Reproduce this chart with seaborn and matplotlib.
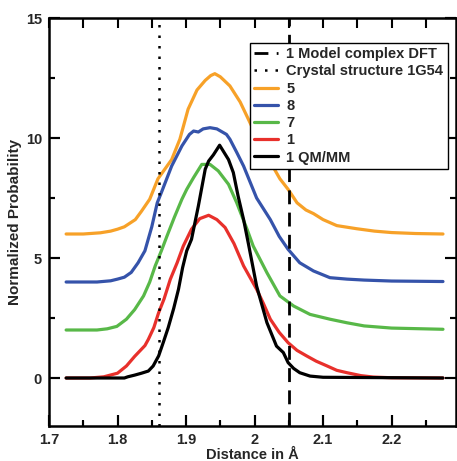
import numpy as np
import pandas as pd
import matplotlib
matplotlib.use("Agg")
import matplotlib.pyplot as plt
import seaborn as sns

# ---- data ----
x5 = [1.725, 1.75, 1.775, 1.79, 1.80, 1.81, 1.818, 1.826, 1.835, 1.847, 1.859, 1.869, 1.879, 1.891,
      1.903, 1.916, 1.928, 1.936, 1.942, 1.95, 1.964, 1.979, 1.998, 2.018, 2.037, 2.049, 2.062, 2.075,
      2.086, 2.10, 2.12, 2.149, 2.175, 2.20, 2.235, 2.275]
y5 = [6.0, 6.0, 6.05, 6.12, 6.2, 6.3, 6.45, 6.6, 6.95, 7.45, 8.3, 8.7, 9.1, 9.95,
      11.2, 12.0, 12.4, 12.6, 12.68, 12.55, 12.17, 11.5, 10.36, 9.25, 8.3, 7.86, 7.3, 7.0,
      6.85, 6.6, 6.35, 6.22, 6.12, 6.06, 6.02, 6.0]

x8 = [1.725, 1.77, 1.79, 1.80, 1.81, 1.82, 1.83, 1.84, 1.85, 1.858, 1.865, 1.879, 1.894, 1.905,
      1.911, 1.918, 1.925, 1.935, 1.945, 1.959, 1.964, 1.974, 1.984, 2.003, 2.013, 2.023, 2.036,
      2.049, 2.066, 2.086, 2.11, 2.135, 2.16, 2.20, 2.275]
y8 = [4.0, 4.0, 4.05, 4.12, 4.2, 4.4, 4.8, 5.3, 6.3, 7.3, 7.8, 8.83, 9.67, 10.15,
      10.29, 10.25, 10.38, 10.43, 10.38, 10.15, 9.95, 9.4, 8.83, 7.5, 7.05, 6.6, 5.9,
      5.36, 4.8, 4.46, 4.18, 4.12, 4.08, 4.04, 4.02]

x7 = [1.725, 1.77, 1.785, 1.799, 1.813, 1.825, 1.838, 1.847, 1.855, 1.864, 1.872, 1.883, 1.894,
      1.901, 1.911, 1.923, 1.935, 1.947, 1.962, 1.974, 1.989, 1.998, 2.018, 2.037, 2.057, 2.081,
      2.11, 2.135, 2.16, 2.20, 2.275]
y7 = [2.0, 2.0, 2.05, 2.15, 2.45, 2.85, 3.42, 4.0, 4.67, 5.3, 5.9, 6.7, 7.45,
      7.86, 8.35, 8.9, 8.9, 8.63, 8.07, 7.3, 6.2, 5.5, 4.39, 3.42, 3.0, 2.65,
      2.45, 2.3, 2.17, 2.08, 2.03]

x1 = [1.725, 1.76, 1.78, 1.80, 1.813, 1.825, 1.84, 1.845, 1.853, 1.860, 1.868, 1.877, 1.887, 1.896,
      1.908, 1.920, 1.933, 1.945, 1.957, 1.970, 1.984, 2.003, 2.013, 2.023, 2.036, 2.049, 2.062,
      2.076, 2.09, 2.106, 2.12, 2.135, 2.155, 2.173, 2.20, 2.275]
y1 = [0.0, 0.0, 0.05, 0.2, 0.5, 0.9, 1.35, 1.61, 2.1, 2.72, 3.3, 4.11, 4.8, 5.5,
      6.2, 6.64, 6.78, 6.6, 6.27, 5.6, 4.67, 3.7, 3.1, 2.45, 1.9, 1.47, 1.15,
      0.92, 0.7, 0.5, 0.32, 0.22, 0.1, 0.04, 0.01, 0.0]

xq = [1.725, 1.81, 1.815, 1.825, 1.835, 1.845, 1.852, 1.860, 1.867, 1.874, 1.882, 1.889, 1.895,
      1.901, 1.908, 1.918, 1.928, 1.933, 1.940, 1.949, 1.962, 1.969, 1.976, 1.984, 1.991, 2.003,
      2.018, 2.032, 2.042, 2.049, 2.057, 2.066, 2.081, 2.10, 2.275]
yq = [0.0, 0.0, 0.05, 0.12, 0.2, 0.29, 0.5, 0.92, 1.5, 2.1, 2.9, 3.7, 4.6,
      5.3, 5.78, 7.17, 8.7, 9.04, 9.3, 9.7, 9.1, 8.56, 7.58, 6.6, 5.6, 3.83,
      2.31, 1.33, 1.06, 0.64, 0.4, 0.22, 0.08, 0.03, 0.0]

series_names = ["5", "8", "7", "1", "1 QM/MM"]
series_x = [x5, x8, x7, x1, xq]
series_y = [y5, y8, y7, y1, yq]
series_colors = ["#F7A128", "#3553AA", "#58B848", "#E8302B", "#000000"]

dft_distance = 2.05
crystal_distance = 1.86

xticks = [1.7, 1.8, 1.9, 2.0, 2.1, 2.2]
xticklabels = ["1.7", "1.8", "1.9", "2", "2.1", "2.2"]
xminor = [1.75, 1.85, 1.95, 2.05, 2.15, 2.25]
xtop = [1.7, 1.75, 1.8, 1.85, 1.9, 1.95, 2.0, 2.05, 2.1, 2.15, 2.2, 2.25]
yticks = [0, 5, 10, 15]
yticklabels = ["0", "5", "10", "15"]
yminor = [2.5, 7.5, 12.5]

# ---- plot ----
sns.set_style("ticks")
plt.rcParams["font.family"] = ["Liberation Sans", "DejaVu Sans"]
plt.rcParams["font.weight"] = "bold"
plt.rcParams["axes.labelweight"] = "bold"
plt.rcParams["axes.edgecolor"] = "black"
plt.rcParams["axes.linewidth"] = 1.8

fig = plt.figure(figsize=(4.57, 4.61), dpi=100)
W, H = 457, 461
ax_w_px, ax_h_px = 456 - 49, 426 - 18
ax = fig.add_axes([49 / W, 35 / H, ax_w_px / W, ax_h_px / H])

frames = []
for name, xs, ys in zip(series_names, series_x, series_y):
    frames.append(pd.DataFrame({"x": xs, "y": ys, "series": name}))
df = pd.concat(frames, ignore_index=True)

handles = {}
for name, col in zip(series_names, series_colors):
    sub = df[df["series"] == name]
    sns.lineplot(data=sub, x="x", y="y", color=col, lw=2.3, ax=ax, estimator=None,
                 sort=False, label=name, legend=False)
    handles[name] = ax.lines[-1]

h_dft = ax.axvline(dft_distance, color="black", lw=2.0, linestyle=(0, (5, 3)))
h_cry = ax.axvline(crystal_distance, color="black", lw=1.8, linestyle=(0, (1, 3.2)))

ax.set_xlim(1.7, 2.294)
ax.set_ylim(-2, 15)
ax.set_xticks(xticks)
ax.set_xticks(xminor, minor=True)
ax.set_xticklabels(xticklabels)
ax.set_yticks(yticks)
ax.set_yticks(yminor, minor=True)
ax.set_yticklabels(yticklabels)
ax.set_xlim(1.7, 2.294)
ax.set_ylim(-2, 15)
ax.tick_params(which="both", direction="in", width=1.5, color="black",
               bottom=True, left=True, top=False, right=True)
ax.tick_params(which="major", length=8, labelsize=10.5, pad=5)
ax.tick_params(which="minor", length=4)
for lab in ax.get_xticklabels() + ax.get_yticklabels():
    lab.set_fontweight("bold")

# inward tick marks drawn explicitly at the tick positions (axis-fraction lengths)
tick_kw = dict(colors="black", linewidth=1.5, clip_on=False, zorder=4)
xt = ax.get_xaxis_transform()
yt = ax.get_yaxis_transform()
maj_x = 11 / ax_h_px
min_x = 5.5 / ax_h_px
maj_y = 11 / ax_w_px
min_y = 6 / ax_w_px
ax.vlines(xticks, 0, maj_x, transform=xt, **tick_kw)
ax.vlines(xminor, 0, min_x, transform=xt, **tick_kw)
ax.vlines(xtop, 1 - 10 / ax_h_px, 1, transform=xt, **tick_kw)
ax.hlines(yticks, 0, maj_y, transform=yt, **tick_kw)
ax.hlines(yminor, 0, min_y, transform=yt, **tick_kw)
ax.hlines(yticks, 1 - maj_y, 1, transform=yt, **tick_kw)
ax.hlines(yminor, 1 - min_y, 1, transform=yt, **tick_kw)
ax.set_xlim(1.7, 2.294)
ax.set_ylim(-2, 15)

ax.set_xlabel("Distance in Å", fontsize=10.5, fontweight="bold", labelpad=1)
ax.set_ylabel("Normalized Probability", fontsize=11, fontweight="bold", labelpad=3)

leg_handles = [h_dft, h_cry] + [handles[n] for n in series_names]
leg_labels = ["1 Model complex DFT", "Crystal structure 1G54"] + series_names
leg = ax.legend(leg_handles, leg_labels, loc="upper right", bbox_to_anchor=(0.98, 0.939),
                borderaxespad=0, fancybox=False, frameon=True, edgecolor="black",
                handlelength=1.6, handletextpad=0.6, labelspacing=0.22,
                borderpad=0.3, prop={"weight": "bold", "size": 10.5})
leg.get_frame().set_linewidth(1.0)
leg.get_frame().set_alpha(1)

fig.savefig("out.png", dpi=100)
